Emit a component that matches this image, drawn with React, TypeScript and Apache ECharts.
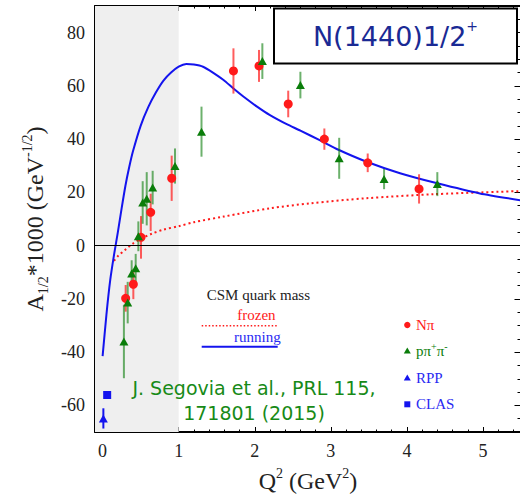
import React, { useEffect, useRef } from 'react';
import * as echarts from 'echarts';

// ---- axis ranges & ticks ----
const X_MIN = -0.1;
const X_MAX = 5.5;
const Y_MIN = -70;
const Y_MAX = 90;
const xMajor = [0, 1, 2, 3, 4, 5];
const xMinor = [0.2, 0.4, 0.6, 0.8, 1.2, 1.4, 1.6, 1.8, 2.2, 2.4, 2.6, 2.8, 3.2, 3.4, 3.6, 3.8, 4.2, 4.4, 4.6, 4.8, 5.2, 5.4];
const yMajor = [-60, -40, -20, 0, 20, 40, 60, 80];
const yMinor = [-65, -55, -50, -45, -35, -30, -25, -15, -10, -5, 5, 10, 15, 25, 30, 35, 45, 50, 55, 65, 70, 75, 85];

// ---- N pi data ----
const npiQ2 = [0.303, 0.404, 0.505, 0.632, 0.908, 1.72, 2.056, 2.44, 2.915, 3.485, 4.16];
const npiA = [-19.8, -14.5, 3.1, 12.5, 25.3, 65.6, 67.5, 53.2, 40.0, 31.1, 21.3];
const npiErr = [5.0, 5.6, 8.0, 7.0, 8.5, 8.5, 6.0, 5.0, 4.0, 3.5, 5.5];

// ---- p pi+ pi- data ----
const ppQ2 = [0.28, 0.33, 0.382, 0.435, 0.47, 0.527, 0.58, 0.658, 0.952, 1.3, 2.1, 2.6, 3.11, 3.7, 4.4];
const ppA = [-36.0, -21.4, -10.5, -8.5, 3.5, 16.2, 17.6, 21.8, 29.9, 42.8, 69.3, 60.3, 32.8, 25.0, 23.1];
const ppErr = [13.8, 7.8, 5.0, 5.4, 5.6, 8.0, 10.0, 6.3, 6.6, 9.4, 6.7, 5.0, 7.7, 3.8, 4.5];

// ---- RPP / CLAS photon points ----
const rppQ2 = [0.01];
const rppA = [-64.9];
const rppErr = [3.8];
const clasQ2 = [0.06];
const clasA = [-56.1];

// ---- CSM curves ----
const runningQ2 = [0, 0.05, 0.1, 0.15, 0.2, 0.25, 0.3, 0.35, 0.4, 0.5, 0.6, 0.7, 0.8, 0.9, 1.0, 1.1, 1.2, 1.32, 1.45, 1.59, 1.72, 1.85, 2.03, 2.2, 2.42, 2.6, 2.86, 3.1, 3.47, 3.91, 4.4, 4.96, 5.5];
const runningA = [-41.5, -26, -13, -3.5, 5, 14, 22.5, 29.5, 35.5, 45, 52, 57.5, 62, 65, 67.2, 68.2, 68, 67.2, 65, 62.2, 59, 56, 52.2, 49, 45.6, 43.2, 39.5, 36, 31.5, 27.2, 23.4, 19.6, 17];
const frozenQ2 = [0.15, 0.2, 0.3, 0.4, 0.5, 0.65, 0.8, 1.0, 1.2, 1.59, 2.2, 2.73, 3.47, 4.35, 5.5];
const frozenA = [-5.7, -4, -1.5, 0.8, 2.5, 4.5, 6, 7.3, 8.8, 10.9, 14, 15.9, 17.8, 19.3, 20.5];

const RED = '#ff1a1a';
const GREEN = '#0a7d0a';
const BLUE = '#1414ee';
const BLUE_TXT = '#2a2af2';
const SERIF = "'Liberation Serif', 'Times New Roman', serif";

const zip2 = (a: number[], b: number[]) => a.map((v, i) => [v, b[i]]);
const zip3 = (a: number[], b: number[], c: number[]) => a.map((v, i) => [v, b[i], c[i]]);

function errorBars(data: number[][], color: string) {
  return {
    type: 'custom',
    silent: true,
    clip: true,
    z: 3,
    renderItem: (_p: any, api: any) => {
      const x = api.value(0);
      const y = api.value(1);
      const e = api.value(2);
      const p1 = api.coord([x, y - e]);
      const p2 = api.coord([x, y + e]);
      return {
        type: 'line',
        shape: { x1: p1[0], y1: p1[1], x2: p2[0], y2: p2[1] },
        style: { stroke: color, lineWidth: 2 },
      };
    },
    data,
  };
}

function xAxisDef(position: string, values: number[], len: number, labels: boolean, line: boolean, extra: any = {}) {
  return {
    type: 'value',
    position,
    min: X_MIN,
    max: X_MAX,
    axisLine: { show: line, onZero: false, lineStyle: { color: '#000', width: 2 } },
    axisTick: { show: true, inside: true, length: len, customValues: values, lineStyle: { color: '#000', width: 1 } },
    axisLabel: labels
      ? { show: true, customValues: values, fontFamily: SERIF, fontSize: 18, color: '#222', margin: 10 }
      : { show: false },
    splitLine: { show: false },
    ...extra,
  };
}

function yAxisDef(position: string, values: number[], len: number, labels: boolean, line: boolean, extra: any = {}) {
  return {
    type: 'value',
    position,
    min: Y_MIN,
    max: Y_MAX,
    axisLine: { show: line, onZero: false, lineStyle: { color: '#000', width: 2 } },
    axisTick: { show: true, inside: true, length: len, customValues: values, lineStyle: { color: '#000', width: 1 } },
    axisLabel: labels
      ? { show: true, customValues: values, fontFamily: SERIF, fontSize: 18, color: '#222', margin: 10 }
      : { show: false },
    splitLine: { show: false },
    ...extra,
  };
}

export default function App() {
  const ref = useRef<HTMLDivElement>(null);

  useEffect(() => {
    if (!ref.current) return;
    const chart = echarts.init(ref.current, null, { renderer: 'svg' });

    const option: any = {
      animation: false,
      backgroundColor: '#fff',
      grid: { left: 95, right: 9, top: 6, bottom: 66, containLabel: false },
      xAxis: [
        xAxisDef('bottom', xMajor, 5, true, true, {
          name: '{a|Q}{s|2}{a| (GeV}{s|2}{a|)}',
          nameLocation: 'middle',
          nameGap: 34,
          nameTextStyle: {
            rich: {
              a: { fontFamily: SERIF, fontSize: 24, color: '#222', lineHeight: 30 },
              s: { fontFamily: SERIF, fontSize: 14, color: '#222', verticalAlign: 'top', lineHeight: 30 },
            },
          },
        }),
        xAxisDef('bottom', xMinor, 2.5, false, false),
        xAxisDef('top', xMajor, 5, false, true),
        xAxisDef('top', xMinor, 2.5, false, false),
      ],
      yAxis: [
        yAxisDef('left', yMajor, 6.5, true, true, {
          name: '{a|A}{b|1/2}{a|*1000 (GeV}{s|-1/2}{a|)}',
          nameLocation: 'middle',
          nameGap: 40,
          nameRotate: 90,
          nameTextStyle: {
            rich: {
              a: { fontFamily: SERIF, fontSize: 24, color: '#222', lineHeight: 30 },
              b: { fontFamily: SERIF, fontSize: 14, color: '#222', verticalAlign: 'bottom', lineHeight: 30 },
              s: { fontFamily: SERIF, fontSize: 14, color: '#222', verticalAlign: 'top', lineHeight: 30 },
            },
          },
        }),
        yAxisDef('left', yMinor, 3.5, false, false),
        yAxisDef('right', yMajor, 6.5, false, true),
        yAxisDef('right', yMinor, 3.5, false, false),
      ],
      series: [
        {
          type: 'scatter',
          data: [],
          silent: true,
          z: 0,
          markArea: {
            silent: true,
            itemStyle: { color: '#efefef' },
            data: [[{ xAxis: X_MIN }, { xAxis: 1 }]],
          },
          markLine: {
            silent: true,
            symbol: 'none',
            label: { show: false },
            lineStyle: { color: '#000', width: 1, type: 'solid' },
            data: [{ yAxis: 0 }],
          },
        },
        {
          type: 'line',
          data: zip2(frozenQ2, frozenA),
          smooth: 0.3,
          showSymbol: false,
          silent: true,
          z: 2,
          lineStyle: { color: RED, width: 2, type: [2, 3] },
        },
        {
          type: 'line',
          data: zip2(runningQ2, runningA),
          smooth: 0.2,
          showSymbol: false,
          silent: true,
          z: 2,
          lineStyle: { color: BLUE, width: 2 },
        },
        errorBars(zip3(npiQ2, npiA, npiErr), 'rgba(255,30,30,0.72)'),
        errorBars(zip3(ppQ2, ppA, ppErr), 'rgba(10,125,10,0.6)'),
        errorBars(zip3(rppQ2, rppA, rppErr), BLUE),
        {
          type: 'scatter',
          data: zip2(npiQ2, npiA),
          symbol: 'circle',
          symbolSize: 9,
          z: 4,
          itemStyle: { color: RED, opacity: 1 },
        },
        {
          type: 'scatter',
          data: zip2(ppQ2, ppA),
          symbol: 'triangle',
          symbolSize: [9, 8],
          z: 4,
          itemStyle: { color: GREEN, opacity: 1 },
        },
        {
          type: 'scatter',
          data: zip2(rppQ2, rppA),
          symbol: 'triangle',
          symbolSize: [9, 8],
          z: 4,
          itemStyle: { color: BLUE, opacity: 1 },
        },
        {
          type: 'scatter',
          data: zip2(clasQ2, clasA),
          symbol: 'rect',
          symbolSize: 8,
          z: 4,
          itemStyle: { color: BLUE, opacity: 1 },
        },
      ],
      graphic: [
        // title box
        {
          type: 'rect',
          shape: { x: 274, y: 8.5, width: 243, height: 55 },
          style: { fill: '#fff', stroke: '#000', lineWidth: 2 },
          z: 10,
        },
        {
          type: 'text',
          x: 395.5,
          y: 36,
          z: 11,
          style: {
            text: '{a|N(1440)1/2}{s|+}',
            align: 'center',
            verticalAlign: 'middle',
            rich: {
              a: { fontFamily: "'DejaVu Sans', Verdana, sans-serif", fontSize: 27, fill: '#1a2a94', lineHeight: 34 },
              s: { fontFamily: "'DejaVu Sans', Verdana, sans-serif", fontSize: 14, fill: '#1a2a94', verticalAlign: 'top', lineHeight: 34 },
            },
          },
        },
        // CSM legend
        {
          type: 'text', x: 206.7, y: 295, z: 10,
          style: { text: 'CSM quark mass', fontFamily: SERIF, fontSize: 15, fill: '#222', verticalAlign: 'middle', align: 'left' },
        },
        {
          type: 'text', x: 237.3, y: 315, z: 10,
          style: { text: 'frozen', fontFamily: SERIF, fontSize: 15, fill: RED, verticalAlign: 'middle', align: 'left' },
        },
        {
          type: 'line', z: 10,
          shape: { x1: 201.7, y1: 325.7, x2: 276.7, y2: 325.7 },
          style: { stroke: RED, lineWidth: 1.5, lineDash: [1.5, 2] },
        },
        {
          type: 'text', x: 234, y: 337.3, z: 10,
          style: { text: 'running', fontFamily: SERIF, fontSize: 15, fill: BLUE_TXT, verticalAlign: 'middle', align: 'left' },
        },
        {
          type: 'line', z: 10,
          shape: { x1: 201.7, y1: 346.7, x2: 277.7, y2: 346.7 },
          style: { stroke: BLUE, lineWidth: 2 },
        },
        // marker legend
        { type: 'circle', z: 10, shape: { cx: 407.3, cy: 325, r: 3.2 }, style: { fill: RED } },
        {
          type: 'text', x: 416, y: 325, z: 10,
          style: { text: 'Nπ', fontFamily: SERIF, fontSize: 15, fill: RED, verticalAlign: 'middle', align: 'left' },
        },
        { type: 'polygon', z: 10, shape: { points: [[407.3, 347.5], [403.8, 353.5], [410.8, 353.5]] }, style: { fill: GREEN } },
        {
          type: 'text', x: 416, y: 351, z: 10,
          style: {
            text: '{g|pπ}{s|+}{g|π}{s|-}',
            align: 'left',
            verticalAlign: 'middle',
            rich: {
              g: { fontFamily: SERIF, fontSize: 15, fill: GREEN, lineHeight: 20 },
              s: { fontFamily: SERIF, fontSize: 10, fill: GREEN, verticalAlign: 'top', lineHeight: 20 },
            },
          },
        },
        { type: 'polygon', z: 10, shape: { points: [[407.3, 374.5], [403.8, 380.5], [410.8, 380.5]] }, style: { fill: BLUE } },
        {
          type: 'text', x: 416, y: 377.7, z: 10,
          style: { text: 'RPP', fontFamily: SERIF, fontSize: 15, fill: BLUE_TXT, verticalAlign: 'middle', align: 'left' },
        },
        { type: 'rect', z: 10, shape: { x: 404.3, y: 401.3, width: 6, height: 6 }, style: { fill: BLUE } },
        {
          type: 'text', x: 416, y: 404.3, z: 10,
          style: { text: 'CLAS', fontFamily: SERIF, fontSize: 15, fill: BLUE_TXT, verticalAlign: 'middle', align: 'left' },
        },
        // citation
        {
          type: 'text', x: 254, y: 400.8, z: 10,
          style: {
            text: 'J. Segovia et al., PRL 115,\n171801 (2015)',
            fontFamily: "'DejaVu Sans', sans-serif",
            fontSize: 19,
            lineHeight: 25,
            fill: '#178a17',
            align: 'center',
            verticalAlign: 'middle',
          },
        },
      ],
    };

    chart.setOption(option);
    return () => chart.dispose();
  }, []);

  return (
    <div style={{ position: 'fixed', left: 0, top: 0, width: 520, height: 498, overflow: 'hidden', background: '#fff' }}>
      <div ref={ref} style={{ width: 530, height: 498 }} />
    </div>
  );
}
